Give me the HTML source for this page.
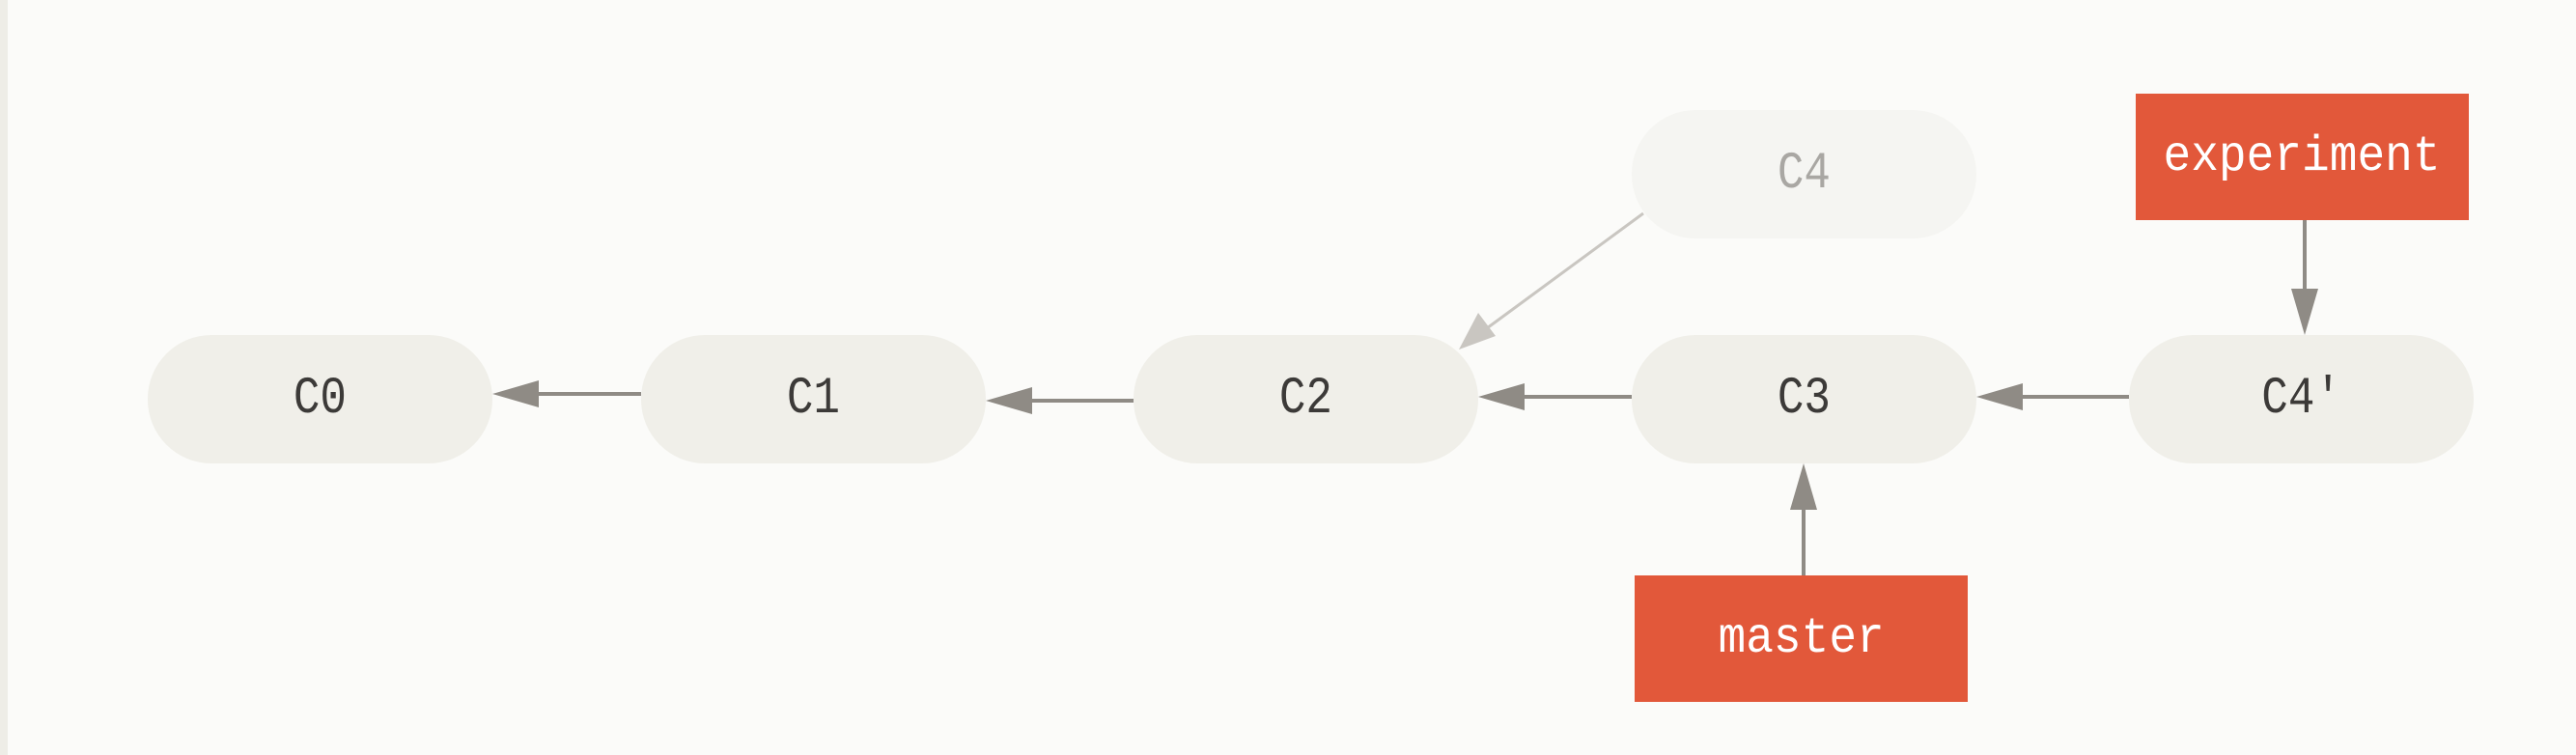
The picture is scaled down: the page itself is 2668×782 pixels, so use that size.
<!DOCTYPE html>
<html><head><style>
html,body{margin:0;padding:0;}
body{width:2668px;height:782px;background:#fbfbf9;position:relative;overflow:hidden;font-family:"Liberation Mono",monospace;}
.n{position:absolute;top:347px;height:133px;width:357px;border-radius:66px;background:#f0efe9;color:#3c3a38;font-size:54px;display:flex;align-items:center;justify-content:center;}
.r{position:absolute;background:#e2583a;color:#fff;font-size:52px;display:flex;align-items:center;justify-content:center;}
span{display:inline-block;transform:scaleX(0.85);}
.r span{transform:scaleX(0.92);}
</style></head><body>
<div style="position:absolute;left:0;top:0;width:8px;height:782px;background:#eeede7"></div>
<svg style="position:absolute;left:0;top:0" width="2668" height="782">
<g stroke="#8f8b85" stroke-width="4" fill="#8f8b85">
<line x1="664" y1="408" x2="550" y2="408"/><polygon points="510,408 558,394 558,422" stroke="none"/>
<line x1="1174" y1="415" x2="1060" y2="415"/><polygon points="1021,415 1069,401 1069,429" stroke="none"/>
<line x1="1690" y1="411" x2="1570" y2="411"/><polygon points="1531,411 1579,397 1579,425" stroke="none"/>
<line x1="2205" y1="411" x2="2085" y2="411"/><polygon points="2047,411 2095,397 2095,425" stroke="none"/>
<line x1="2387" y1="228" x2="2387" y2="310"/><polygon points="2387,347 2373,299 2401,299" stroke="none"/>
<line x1="1868" y1="596" x2="1868" y2="520"/><polygon points="1868,480 1854,528 1882,528" stroke="none"/>
</g>
<g stroke="#c9c6c1" stroke-width="3" fill="#c9c6c1">
<line x1="1702" y1="221" x2="1540" y2="340"/><polygon points="1511,362 1531,324 1549,348" stroke="none"/>
</g>
</svg>
<div class="n" style="left:153px"><span>C0</span></div>
<div class="n" style="left:664px"><span>C1</span></div>
<div class="n" style="left:1174px"><span>C2</span></div>
<div class="n" style="left:1690px"><span>C3</span></div>
<div class="n" style="left:2205px"><span>C4'</span></div>
<div class="n" style="left:1690px;top:114px;background:#f5f5f2;color:#a9a7a3"><span>C4</span></div>
<div class="r" style="left:2212px;top:97px;width:345px;height:131px"><span>experiment</span></div>
<div class="r" style="left:1693px;top:596px;width:345px;height:131px"><span>master</span></div>
</body></html>
